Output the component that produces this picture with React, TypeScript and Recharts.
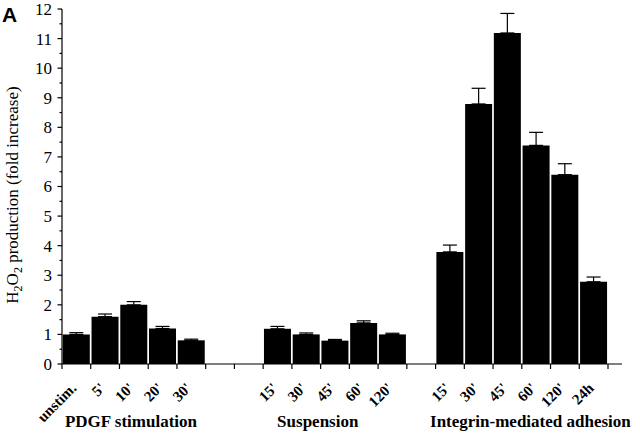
import { Bar, BarChart, ErrorBar, XAxis, YAxis } from 'recharts'

const CATEGORIES = [
  'unstim.', "5'", "10'", "20'", "30'", '', '',
  "15'", "30'", "45'", "60'", "120'", '',
  "15'", "30'", "45'", "60'", "120'", '24h',
]
const VALUES = [
  1.0, 1.6, 2.0, 1.2, 0.8, null, null,
  1.19, 1.0, 0.79, 1.39, 1.0, null,
  3.79, 8.79, 11.19, 7.39, 6.4, 2.78,
]
const ERRORS = [
  0.06, 0.09, 0.11, 0.07, 0.04, null, null,
  0.08, 0.05, 0.04, 0.07, 0.04, null,
  0.23, 0.53, 0.66, 0.44, 0.37, 0.16,
]
const GROUP_LABELS = ['PDGF stimulation', 'Suspension', 'Integrin-mediated adhesion']
// group label centres, in slots from the left edge of the first bar
const GROUP_AT = [2.4, 8.9, 16.3]
const Y_TICKS = [
  0, 0.5, 1, 1.5, 2, 2.5, 3, 3.5, 4, 4.5, 5, 5.5, 6,
  6.5, 7, 7.5, 8, 8.5, 9, 9.5, 10, 10.5, 11, 11.5, 12,
]

const rows = CATEGORIES.map((cat, i) => ({
  cat,
  value: VALUES[i],
  err: ERRORS[i] == null ? null : [0, ERRORS[i]],
}))

const SERIF = '"Liberation Serif", "Times New Roman", serif'

function XTick(props: any) {
  const { x, y, payload, index } = props
  const half = payload?.offset ?? 14.37
  const last = index === CATEGORIES.length - 1
  const lx = x + 1
  const ly = y + 25
  return (
    <g>
      <line x1={x - half} x2={x - half} y1={y} y2={y + 5} stroke="#000" strokeWidth={1.2} />
      {last && <line x1={x + half} x2={x + half} y1={y} y2={y + 5} stroke="#000" strokeWidth={1.2} />}
      {payload.value && (
        <text
          x={lx}
          y={ly}
          transform={`rotate(-45 ${lx} ${ly})`}
          textAnchor="end"
          fontFamily={SERIF}
          fontWeight="bold"
          fontSize={15}
          fill="#000"
        >
          {payload.value}
        </text>
      )}
      {index === 0 &&
        GROUP_LABELS.map((g, i) => (
          <text
            key={g}
            x={x - half + GROUP_AT[i] * 2 * half}
            y={y + 63}
            textAnchor="middle"
            fontFamily={SERIF}
            fontWeight="bold"
            fontSize={17}
            fill="#000"
          >
            {g}
          </text>
        ))}
    </g>
  )
}

function YTick(props: any) {
  const { x, y, payload } = props
  const major = Number.isInteger(payload.value)
  return (
    <g>
      <line x1={x - (major ? 4.5 : 2.5)} x2={x} y1={y} y2={y} stroke="#000" strokeWidth={1.2} />
      {major && (
        <text x={x - 10} y={y} dy="0.35em" textAnchor="end" fontFamily={SERIF} fontSize={17} fill="#000">
          {payload.value}
        </text>
      )}
    </g>
  )
}

export default function App() {
  return (
    <div style={{ position: 'absolute', left: 0, top: 0, width: 640, height: 436, background: '#fff' }}>
      <BarChart
        width={640}
        height={436}
        data={rows}
        margin={{ top: 9, right: 18, bottom: 11, left: 0 }}
        barCategoryGap={0.8}
      >
        <XAxis
          dataKey="cat"
          height={61}
          interval={0}
          padding={{ left: 0, right: 14 }}
          tickSize={0}
          tickMargin={0}
          tickLine={false}
          axisLine={{ stroke: '#000', strokeWidth: 1.2 }}
          tick={<XTick />}
        />
        <YAxis
          width={62}
          domain={[0, 12]}
          ticks={Y_TICKS}
          interval={0}
          tickSize={0}
          tickMargin={0}
          tickLine={false}
          axisLine={{ stroke: '#000', strokeWidth: 1.2 }}
          tick={<YTick />}
        />
        <Bar dataKey="value" fill="#000" isAnimationActive={false}>
          <ErrorBar dataKey="err" width={7} stroke="#000" strokeWidth={1.2} />
        </Bar>
        <text x={2} y={22} fontFamily='"Liberation Sans", Arial, sans-serif' fontWeight="bold" fontSize={21} fill="#000">
          A
        </text>
        <text
          x={18}
          y={195}
          transform="rotate(-90 18 195)"
          textAnchor="middle"
          fontFamily={SERIF}
          fontSize={17}
          fill="#000"
        >
          H<tspan dy={4} fontSize={12}>2</tspan>
          <tspan dy={-4}>O</tspan>
          <tspan dy={4} fontSize={12}>2</tspan>
          <tspan dy={-4}> production (fold increase)</tspan>
        </text>
      </BarChart>
    </div>
  )
}
